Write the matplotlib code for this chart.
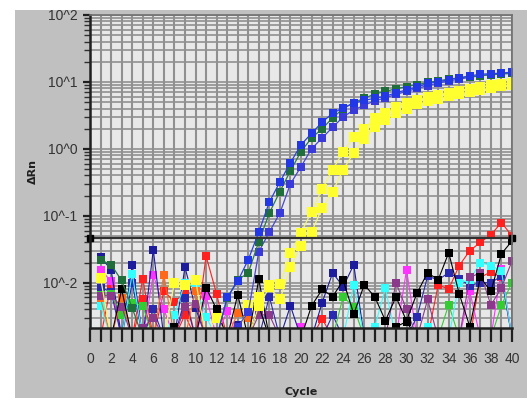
import matplotlib
matplotlib.use("Agg")
import matplotlib.pyplot as plt
from matplotlib.patches import Rectangle
from matplotlib.ticker import FixedLocator, FixedFormatter, MultipleLocator, FuncFormatter, LogLocator
import numpy as np

# value used for points that sit below the visible axis range
L = 0.0015

cycles = list(range(1, 41))

# amplification curves (Delta Rn per cycle)
blue1 = [L, L, L, L, L, L, L, L, L, L, L, L,
         0.006, 0.0105, 0.022, 0.057, 0.16, 0.32, 0.62, 1.15, 1.7, 2.5, 3.4, 4.1,
         4.8, 5.3, 5.7, 6.1, 6.9, 7.6, 8.4, 9.5, 10.0, 10.8, 11.5, 12.3, 13.0, 13.3, 13.5, 14.0]
green1 = [0.022, 0.0185, 0.0108, 0.0042, L, L, L, L, L, L, L, L,
          0.0058, 0.011, 0.014, 0.041, 0.11, 0.23, 0.47, 0.91, 1.45, 2.0, 2.9, 4.0,
          4.9, 5.7, 6.6, 7.2, 7.9, 8.5, 9.1, 9.8, 10.4, 11.0, 11.5, 12.0, 12.4, 12.8, 13.1, 13.4]
blue2 = [L, L, L, L, L, L, L, L, L, L, L, L, L,
         0.0022, 0.0036, 0.029, 0.057, 0.11, 0.30, 0.54, 1.0, 1.45, 2.1, 3.0, 3.8, 4.5,
         5.2, 5.8, 6.5, 7.2, 8.0, 8.8, 9.6, 10.3, 11.0, 11.7, 12.4, 13.0, 13.4, 13.8]
yellow1 = [0.0118, L, L, L, L, L, L, 0.0100, 0.0093, 0.0110, L, 0.0030, L, L,
           0.0047, 0.0062, 0.0091, 0.0095, 0.028, 0.056, 0.115, 0.25, 0.49, 0.90, 1.5, 2.0,
           2.9, 3.4, 4.2, 4.9, 5.4, 5.9, 6.4, 6.9, 7.4, 7.9, 8.4, 8.9, 9.3, 9.7]
yellow2 = [L, L, L, L, L, L, L, L, L, L, L, L, L, L, L, 0.0045,
           0.0085, 0.0056, 0.017, 0.035, 0.057, 0.13, 0.23, 0.49, 0.87, 1.4, 2.1, 2.7,
           3.4, 4.0, 4.6, 5.1, 5.6, 6.1, 6.6, 7.1, 7.6, 8.1, 8.6, 9.1]

# negative / background wells
red1 = [L, 0.0095, L, L, 0.0115, L, 0.0075, 0.0052, 0.0070, L,
        0.025, 0.0068, L, L, L, L, L, L, L, L,
        L, 0.0029, L, L, L, L, L, L, L, L,
        L, L, 0.0092, 0.0080, 0.018, 0.030, 0.040, 0.052, 0.079, 0.050]
red2 = [L, L, L, L, 0.0056, L, L, L, 0.0033, L,
        L, L, L, L, L, L, L, L, L, L,
        L, L, L, L, L, L, L, L, L, L,
        L, L, L, L, L, L, 0.012, 0.0145, 0.012, L]
magenta = [0.0157, 0.0105, L, L, L, 0.0132, 0.0040, L, L, L,
           0.0064, L, 0.0038, L, L, L, L, L, L, 0.0022,
           L, L, L, L, L, L, L, L, L, 0.0155,
           L, L, L, L, L, 0.0074, L, L, 0.016, L]
navy1 = [0.024, 0.0157, L, 0.0185, L, 0.031, L, L, 0.017, 0.0042,
         L, L, L, 0.0023, L, L, L, L, 0.0045, L,
         L, 0.0050, 0.014, 0.0087, 0.0185, L, L, L, L, L,
         L, L, L, L, L, L, L, L, L, L]
navy2 = [0.0084, 0.0073, L, 0.0100, L, 0.0040, L, L, 0.0058, L,
         L, L, L, L, L, L, 0.0062, L, L, L,
         L, L, 0.0033, L, L, L, L, L, L, L,
         0.0031, 0.0125, 0.011, 0.0141, 0.0115, 0.0090, 0.010, 0.010, 0.0125, L]
lime = [0.0066, 0.0068, 0.0033, 0.0050, 0.0045, L, L, L, L, L,
        L, L, L, L, L, L, L, L, L, L,
        L, L, L, 0.0062, 0.0043, L, L, L, L, L,
        L, L, L, 0.0047, L, L, L, L, 0.0046, 0.010]
cyan = [0.0045, L, L, 0.0137, L, L, L, 0.0033, 0.010, 0.0085,
        0.0031, L, L, L, L, L, L, L, L, L,
        L, L, L, L, 0.0093, L, 0.0022, 0.0082, L, L,
        L, 0.0022, L, L, 0.010, 0.011, 0.020, 0.018, 0.015, L]
orange = [0.0058, L, 0.0058, L, L, L, 0.0132, L, L, 0.0075,
          L, L, L, 0.0035, 0.0030, L, L, L, L, L,
          L, L, L, L, L, L, L, L, L, L,
          L, L, L, L, L, L, L, L, L, L]
purple = [0.0064, 0.0064, 0.0044, L, 0.0021, 0.0030, L, L, 0.0044, 0.0048,
          L, L, L, L, L, 0.0033, 0.0033, L, L, L,
          L, L, L, L, L, L, L, L, 0.010, 0.0040,
          L, 0.0056, L, L, L, 0.012, 0.014, 0.0046, 0.0084, 0.021]
black1 = [L, L, 0.0079, L, L, L, L, 0.0022, L, L,
          0.0084, 0.0040, L, 0.0066, L, 0.0113, L, L, L, L,
          0.0045, 0.0079, 0.0062, 0.0108, 0.0034, 0.0093, 0.0061, 0.0027, 0.0061, 0.0027,
          0.0070, 0.0141, 0.011, 0.028, 0.0068, 0.0022, 0.012, 0.0074, 0.027, 0.042]
black2 = [L, L, L, L, L, L, L, L, L, L,
          L, L, L, L, L, 0.0045, L, L, L, L,
          L, L, L, L, L, L, L, L, 0.0022, 0.0026,
          L, L, L, L, L, L, L, L, L, L]

threshold = 0.047

yticks = [0.01, 0.1, 1, 10, 100]
ytick_labels = ["10^-2", "10^-1", "10^0", "10^1", "10^2"]

W, H = 527, 398
fig = plt.figure(figsize=(W / 100, H / 100), dpi=100)
fig.patch.set_facecolor("white")
fig.add_artist(Rectangle((15 / W, 0), 1, 1 - 10 / H, transform=fig.transFigure,
                         facecolor="#c0c0c0", edgecolor="none", zorder=-5))

ax = fig.add_axes([90 / W, 1 - 328 / H, (512 - 90) / W, (328 - 15) / H])
ax.set_facecolor("#e8e8e8")
ax.set_yscale("log")
ax.set_xlim(0, 40)
ax.set_ylim(0.0021, 100)

# grid
ax.set_axisbelow(True)
ax.xaxis.set_major_locator(MultipleLocator(1))
ax.yaxis.set_major_locator(FixedLocator(yticks))
ax.yaxis.set_major_formatter(FixedFormatter(ytick_labels))
ax.yaxis.set_minor_locator(LogLocator(base=10, subs=np.arange(2, 10)))
ax.yaxis.set_minor_formatter(FuncFormatter(lambda v, p: ""))
ax.xaxis.set_major_formatter(FuncFormatter(lambda v, p: str(int(round(v))) if int(round(v)) % 2 == 0 else ""))
ax.grid(True, which="major", axis="x", color="#909090", lw=1.5)
ax.grid(True, which="both", axis="y", color="#909090", lw=1.2)

noise = [
    (red1, "#ff2020"), (red2, "#ff2020"), (magenta, "#ff33ff"), (navy1, "#1c1c9c"),
    (navy2, "#2a2ab0"), (lime, "#33cc33"), (cyan, "#33ffff"), (orange, "#ff6a1a"),
    (purple, "#8b3a8b"), (black1, "#000000"), (black2, "#000000"),
]
for vals, col in noise:
    ax.plot(cycles, vals, color=col, lw=0.8, marker="s", ms=6, mec=col, mew=0)

ax.plot(cycles, yellow2, color="#f4f470", lw=0.9, marker="s", ms=6.5, mfc="#ffff30", mec="#ffff30", mew=0)
ax.plot(cycles, yellow1, color="#f4f470", lw=0.9, marker="s", ms=6.5, mfc="#ffff30", mec="#ffff30", mew=0)
ax.plot(cycles, blue2, color="#4848d0", lw=0.9, marker="s", ms=6, mfc="#3a3ad8", mec="#3a3ad8", mew=0)
ax.plot(cycles, green1, color="#2a7a48", lw=0.9, marker="s", ms=6, mfc="#1f6e3c", mec="#1f6e3c", mew=0)
ax.plot(cycles, blue1, color="#2a40e0", lw=0.9, marker="s", ms=6, mfc="#2238e6", mec="#2238e6", mew=0)

# threshold
ax.axhline(threshold, color="#303030", lw=1.6)
ax.plot([0, 40], [threshold, threshold], ls="none", marker="s", ms=5, color="black", clip_on=False)

for side in ["left", "bottom"]:
    ax.spines[side].set_color("#202020")
    ax.spines[side].set_linewidth(1.8)
for side in ["top", "right"]:
    ax.spines[side].set_color("#707070")
    ax.spines[side].set_linewidth(1.2)

ax.tick_params(axis="x", which="major", direction="out", length=10, width=1.6,
               color="#202020", labelsize=10, labelcolor="#333333", pad=7)
ax.tick_params(axis="y", which="major", direction="out", length=5, width=1.6,
               color="#202020", labelsize=10, labelcolor="#333333", pad=4)
ax.tick_params(axis="y", which="minor", direction="out", length=4, width=1.0, color="#303030")

for lab in ax.get_xticklabels() + ax.get_yticklabels():
    lab.set_family(["Liberation Sans Narrow", "Liberation Sans", "DejaVu Sans"])

fig.text(301 / W, 1 - 392 / H, "Cycle", ha="center", va="center", fontsize=8,
         fontweight="bold", color="#202020")
fig.text(33 / W, 1 - 172 / H, "ΔRn", ha="center", va="center", rotation=90, fontsize=8,
         fontweight="bold", color="#202020")

# white band over the top edge of the panel
fig.add_artist(Rectangle((0, 1 - 10 / H), 1, 10 / H, transform=fig.transFigure,
                         facecolor="white", edgecolor="none", zorder=10))

fig.savefig("out.png", dpi=100)
